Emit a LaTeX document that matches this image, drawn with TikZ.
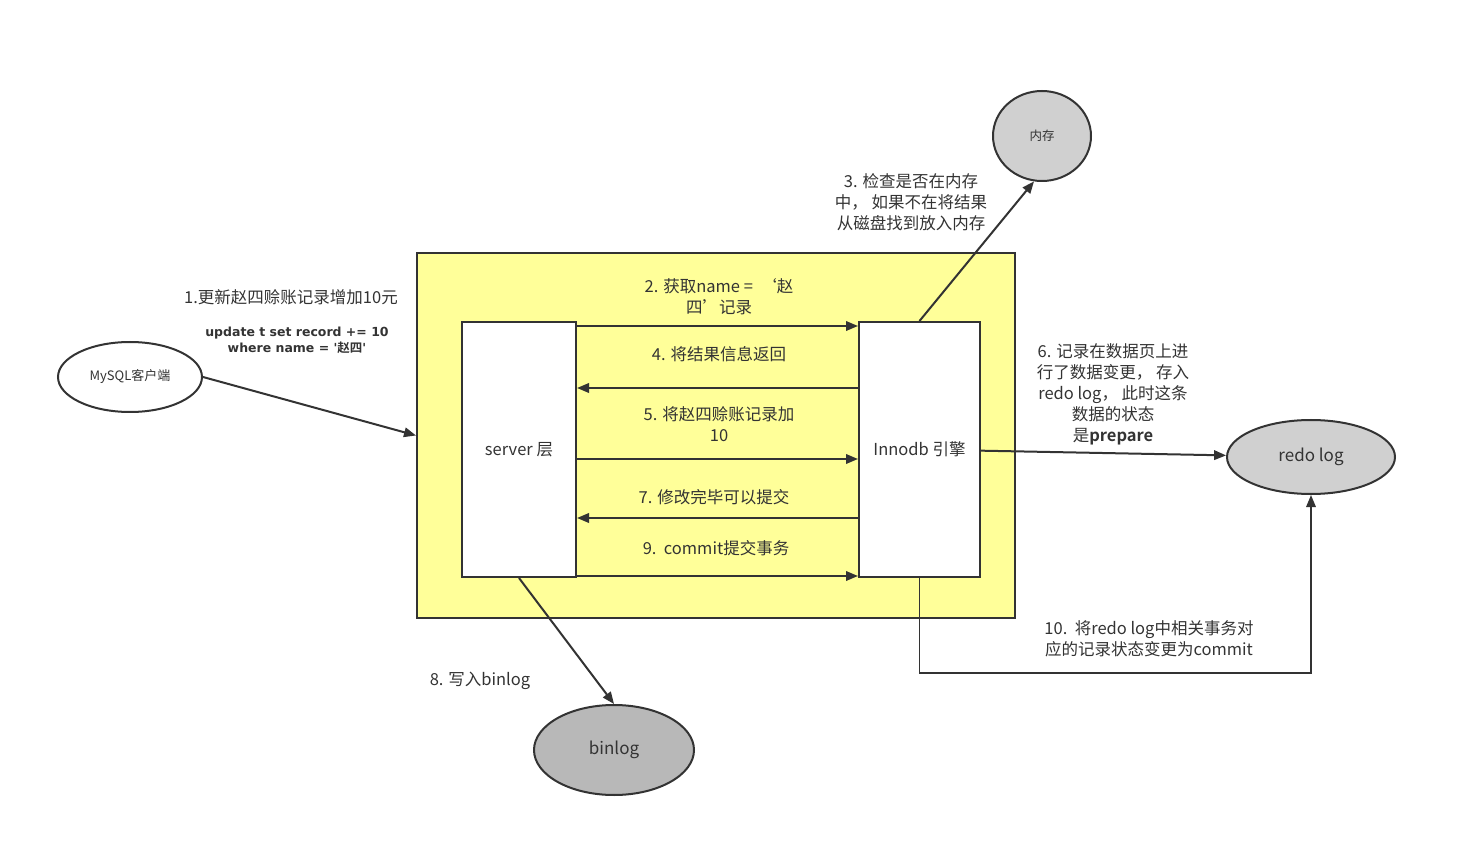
\documentclass[tikz,border=0pt]{standalone}
\usepackage{fontspec}
\setmainfont{Noto Sans CJK SC}[BoldFont={Noto Sans CJK SC Bold}]
\newfontfamily\sqlfont{DejaVu Sans}
\usetikzlibrary{arrows.meta,positioning,shapes.geometric}
\definecolor{boxyellow}{HTML}{FFFF99}
\definecolor{memgray}{HTML}{D0D0D0}
\definecolor{bingray}{HTML}{B8B8B8}
\definecolor{inkgray}{HTML}{333333}

\begin{document}
\begin{tikzpicture}[x=1pt,y=-1pt,>={Triangle[length=12pt,width=9.5pt]},
  every node/.style={text=inkgray},
  flow/.style={draw=inkgray,line width=2pt,->},
  note/.style={font=\fontsize{16.5}{21}\selectfont,align=center,inner sep=0pt},
  layerbox/.style={draw=inkgray,line width=2pt,fill=white,minimum height=255pt,
    font=\fontsize{16.5}{21}\selectfont},
  store/.style={ellipse,draw=inkgray,line width=2pt,inner sep=0pt}]

\useasboundingbox (0,0) rectangle (1457,858);

% --- MySQL process with its two layers ---
\node[draw=inkgray,line width=2pt,fill=boxyellow,minimum width=598pt,minimum height=365pt]
  (mysqld) at (716,435.5) {};
\node[layerbox,minimum width=114pt] (server) at (519,449.5) {server 层};
\node[layerbox,minimum width=121pt] (innodb) at (919.5,449.5) {Innodb 引擎};

% --- outside stores ---
\node[store,minimum width=144pt,minimum height=70pt,fill=white,font=\fontsize{13}{16}\selectfont]
  (client) at (130,377) {MySQL客户端};
\node[store,minimum width=98pt,minimum height=90pt,fill=memgray,font=\fontsize{12.5}{15}\selectfont]
  (mem) at (1042,136) {内存};
\node[store,minimum width=168pt,minimum height=74pt,fill=memgray,font=\fontsize{17}{20}\selectfont]
  (redo) at (1311,457) {redo log};
\node[store,minimum width=160pt,minimum height=90pt,fill=bingray,font=\fontsize{17}{20}\selectfont]
  (binlog) at (614,750) {binlog};

% --- steps between server and engine ---
\foreach \y in {326,459,576}
  \draw[flow] (server.east |- 0,\y) -- (innodb.west |- 0,\y);
\foreach \y in {388,518}
  \draw[flow] (innodb.west |- 0,\y) -- (server.east |- 0,\y);

\draw[flow] (client.east) -- (mysqld.west);
\draw[flow] (innodb.north) -- (mem.-100);
\draw[flow] (innodb) -- (redo);
\draw[flow] (server.south) -- (binlog.north);
\draw[flow,line width=1.6pt] (innodb.south) -- ++(0,95) -| (redo.south);

% --- step texts ---
\node[note] (t1) at (291,297) {1.更新赵四赊账记录增加10元};
\node[note,font=\sqlfont\bfseries\fontsize{12.5}{16}\selectfont] (t1sql) at (297,340)
  {update t set record += 10\\where name = '{\normalfont\bfseries 赵四}'};
\node[note] (t2) at (719,297) {2. 获取name =\ \ ‘赵\\四’记录};
\node[note] (t4) at (719,354) {4. 将结果信息返回};
\node[note] (t5) at (719,424) {5. 将赵四赊账记录加\\10};
\node[note] (t7) at (714,497) {7. 修改完毕可以提交};
\node[note] (t9) at (716,548) {9.\ \ commit提交事务};
\node[note] (t3) at (911,202) {3. 检查是否在内存\\中， 如果不在将结果\\从磁盘找到放入内存};
\node[note] (t6) at (1113,394)
  {6. 记录在数据页上进\\行了数据变更， 存入\\redo log， 此时这条\\数据的状态\\是\textbf{prepare}};
\node[note] (t10) at (1149,639) {10.\ \ 将redo log中相关事务对\\应的记录状态变更为commit};
\node[note] (t8) at (480,681) {8. 写入binlog};

\end{tikzpicture}
\end{document}
